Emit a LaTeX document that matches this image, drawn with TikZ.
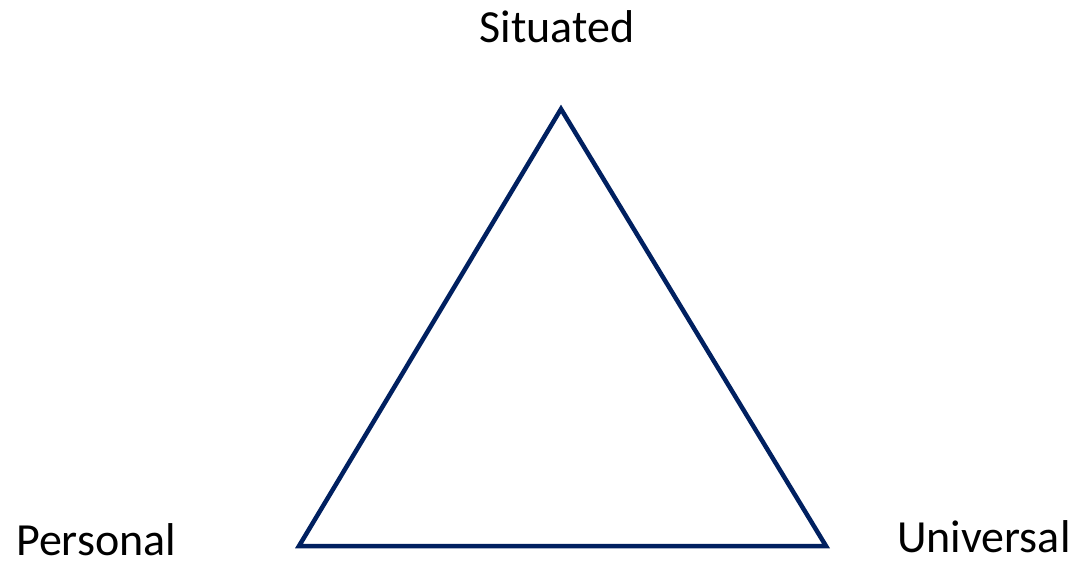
\documentclass[tikz,border=0pt]{standalone}
\usepackage{fontspec}
\setmainfont{Carlito}
\usetikzlibrary{positioning}
\definecolor{navy}{RGB}{0,32,96}
\definecolor{ink}{RGB}{0,0,0}
\tikzset{
  corner/.style={font=\fontsize{46}{50}\selectfont,text=ink,inner sep=0pt},
  edge line/.style={draw=navy,line width=4.5pt,line join=miter},
}
\begin{document}
\begin{tikzpicture}[x=1pt,y=-1pt]
  \useasboundingbox (0,0) rectangle (1074,560);
  % triangle corners
  \coordinate (top) at (561,109);
  \coordinate (left) at (299,546);
  \coordinate (right) at (826,546);
  \draw[edge line] (top) -- (right) -- (left) -- cycle;
  % labels
  \node[corner,anchor=base] (situated) at (557,42) {Situated};
  \node[corner,anchor=base west] (personal) at (16,555) {Personal};
  \node[corner,anchor=base west] (universal) at (897,552) {Universal};
\end{tikzpicture}
\end{document}
